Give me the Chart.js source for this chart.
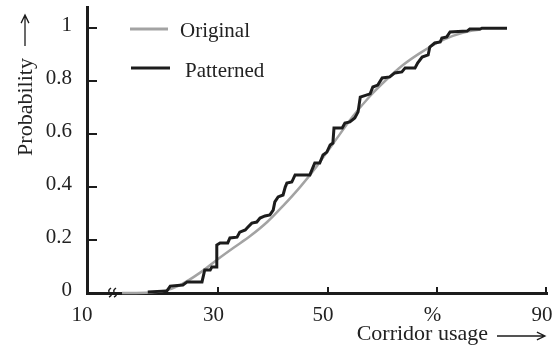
<!DOCTYPE html>
<html>
<head>
<meta charset="utf-8">
<script src="https://cdn.jsdelivr.net/npm/chart.js@4/dist/chart.umd.min.js"></script>
<style>
  body { margin: 0; background: #fff; }
  canvas { display: block; }
</style>
</head>
<body>
<canvas id="cdfChart" width="557" height="349"></canvas>
<script>
// axis ticks (x axis starts after a break, the first label reads 10)
const xTickValues = [6, 30, 50, 70, 90];
const xTickLabels = ['10', '30', '50', '%', '90'];
const yTickValues = [0, 0.2, 0.4, 0.6, 0.8, 1];
const yTickLabels = ['0', '0.2', '0.4', '0.6', '0.8', '1'];

const seriesNames = ['Original', 'Patterned'];

// smooth reference curve
const originalX = [12.4, 17.5, 20.2, 23.0, 26.6, 29.7, 32.7, 35.8, 38.9, 41.8, 44.9, 48.0, 50.9, 54.6, 57.7, 60.8, 63.7, 66.8, 69.9, 72.8, 75.9, 77.8];
const originalY = [0, 0.002, 0.009, 0.030, 0.076, 0.125, 0.170, 0.215, 0.268, 0.329, 0.400, 0.480, 0.563, 0.668, 0.744, 0.808, 0.861, 0.906, 0.944, 0.971, 0.989, 0.995];

// stepped empirical curve
const patternedX = [17.1, 20.6, 21.2, 23.5, 24.3, 27.0, 27.5, 28.5, 28.8, 29.6, 29.7, 30.3, 31.7, 32.1, 33.4, 33.9, 34.9, 35.4, 36.1, 37.0,
  37.6, 38.5, 39.4, 40.0, 40.3, 40.9, 41.8, 42.2, 42.5, 43.4, 44.0, 46.7, 47.3, 47.6, 48.5, 49.1, 49.8, 50.4, 50.9, 51.1,
  52.6, 53.1, 54.0, 54.9, 55.5, 55.9, 57.7, 58.2, 59.1, 59.9, 61.3, 62.2, 63.5, 64.1, 65.9, 66.4, 67.2, 68.3, 68.6, 69.5,
  70.5, 70.8, 71.7, 72.3, 75.4, 75.9, 77.8, 78.1, 82.7];
const patternedY = [0.004, 0.008, 0.026, 0.030, 0.042, 0.042, 0.087, 0.087, 0.098, 0.098, 0.181, 0.189, 0.189, 0.208, 0.211, 0.230, 0.238, 0.249, 0.264, 0.268,
  0.283, 0.291, 0.295, 0.313, 0.344, 0.363, 0.370, 0.400, 0.415, 0.419, 0.446, 0.446, 0.476, 0.491, 0.491, 0.521, 0.532, 0.559, 0.566, 0.623,
  0.623, 0.642, 0.646, 0.661, 0.684, 0.740, 0.752, 0.778, 0.785, 0.812, 0.816, 0.831, 0.835, 0.850, 0.850, 0.869, 0.891, 0.899, 0.929, 0.944,
  0.948, 0.963, 0.967, 0.986, 0.989, 0.997, 0.997, 1.0, 1.0];

const GRAY = '#a3a3a3';
const DARK = '#1c1c1c';
const FONT = '"Liberation Serif", "Times New Roman", serif';

function toPoints(xs, ys) {
  return xs.map(function (x, i) { return { x: x, y: ys[i] }; });
}

function arrow(ctx, x1, y1, x2, y2) {
  var a = Math.atan2(y2 - y1, x2 - x1);
  ctx.beginPath();
  ctx.moveTo(x1, y1);
  ctx.lineTo(x2, y2);
  ctx.moveTo(x2 - 9 * Math.cos(a - 0.45), y2 - 9 * Math.sin(a - 0.45));
  ctx.lineTo(x2, y2);
  ctx.lineTo(x2 - 9 * Math.cos(a + 0.45), y2 - 9 * Math.sin(a + 0.45));
  ctx.stroke();
}

const extras = {
  id: 'extras',
  afterDraw: function (chart) {
    var ctx = chart.ctx;
    var xs = chart.scales.x, ys = chart.scales.y;
    var area = chart.chartArea;
    ctx.save();
    ctx.strokeStyle = DARK;
    ctx.fillStyle = '#222';

    // inner tick marks
    ctx.lineWidth = 2;
    ctx.beginPath();
    yTickValues.slice(1).forEach(function (v) {
      var py = Math.round(ys.getPixelForValue(v));
      ctx.moveTo(area.left + 2, py);
      ctx.lineTo(area.left + 10, py);
    });
    xTickValues.slice(1).forEach(function (v) {
      var px = Math.round(xs.getPixelForValue(v));
      if (px >= area.right) px = area.right - 1;
      ctx.moveTo(px, area.bottom);
      ctx.lineTo(px, area.bottom - 6);
    });
    ctx.stroke();

    // axis break mark: two small wavy strokes
    ctx.lineWidth = 1.4;
    [area.left + 23, area.left + 28].forEach(function (bx) {
      var by = area.bottom;
      ctx.beginPath();
      ctx.moveTo(bx + 1, by - 5);
      ctx.quadraticCurveTo(bx - 3, by - 2, bx, by);
      ctx.quadraticCurveTo(bx + 3, by + 2, bx - 1, by + 4);
      ctx.stroke();
    });

    // legend
    ctx.lineCap = 'butt';
    ctx.lineWidth = 3;
    ctx.strokeStyle = GRAY;
    ctx.beginPath(); ctx.moveTo(130, 29); ctx.lineTo(168, 29); ctx.stroke();
    ctx.strokeStyle = DARK;
    ctx.beginPath(); ctx.moveTo(131, 68); ctx.lineTo(170, 68); ctx.stroke();
    ctx.font = '21px ' + FONT;
    ctx.textBaseline = 'middle';
    ctx.textAlign = 'left';
    ctx.fillText(seriesNames[0], 180, 31);
    ctx.fillText(seriesNames[1], 185, 71);

    // axis titles
    ctx.font = '22px ' + FONT;
    ctx.textAlign = 'right';
    ctx.fillText('Corridor usage', 488, 334);
    ctx.lineWidth = 1.3;
    arrow(ctx, 497, 336, 545, 336);

    ctx.save();
    ctx.translate(26, 107);
    ctx.rotate(-Math.PI / 2);
    ctx.textAlign = 'center';
    ctx.fillText('Probability', 0, 0);
    ctx.restore();
    arrow(ctx, 25, 46, 25, 15);

    ctx.restore();
  }
};

new Chart(document.getElementById('cdfChart'), {
  type: 'line',
  data: {
    datasets: [
      {
        label: seriesNames[0],
        data: toPoints(originalX, originalY),
        borderColor: GRAY,
        borderWidth: 2.5,
        pointRadius: 0,
        cubicInterpolationMode: 'monotone',
        order: 1,
        clip: false
      },
      {
        label: seriesNames[1],
        data: toPoints(patternedX, patternedY),
        borderColor: DARK,
        borderWidth: 3,
        pointRadius: 0,
        tension: 0,
        order: 0,
        clip: false
      }
    ]
  },
  options: {
    responsive: false,
    animation: false,
    devicePixelRatio: 1,
    layout: { padding: { left: 0, top: 7, right: 10, bottom: 0 } },
    plugins: { legend: { display: false }, tooltip: { enabled: false } },
    scales: {
      x: {
        type: 'linear',
        min: 6,
        max: 90,
        afterBuildTicks: function (s) { s.ticks = xTickValues.map(function (v) { return { value: v }; }); },
        afterFit: function (s) { s.height = 56; s.paddingLeft = 0; s.paddingRight = 0; },
        grid: { display: false, drawTicks: false },
        border: { display: true, color: DARK, width: 3 },
        ticks: {
          autoSkip: false,
          maxRotation: 0,
          padding: 10,
          labelOffset: -5,
          color: '#222',
          font: { family: FONT, size: 21 },
          callback: function (v) { return xTickLabels[xTickValues.indexOf(v)]; }
        }
      },
      y: {
        min: 0,
        max: 1.08,
        afterBuildTicks: function (s) { s.ticks = yTickValues.map(function (v) { return { value: v }; }); },
        afterFit: function (s) { s.width = 87; s.paddingTop = 0; s.paddingBottom = 0; },
        grid: { display: false, drawTicks: false },
        border: { display: true, color: DARK, width: 3 },
        ticks: {
          padding: 15,
          labelOffset: -3,
          color: '#222',
          font: { family: FONT, size: 21 },
          callback: function (v) { return yTickLabels[yTickValues.indexOf(v)]; }
        }
      }
    }
  },
  plugins: [extras]
});
</script>
</body>
</html>
